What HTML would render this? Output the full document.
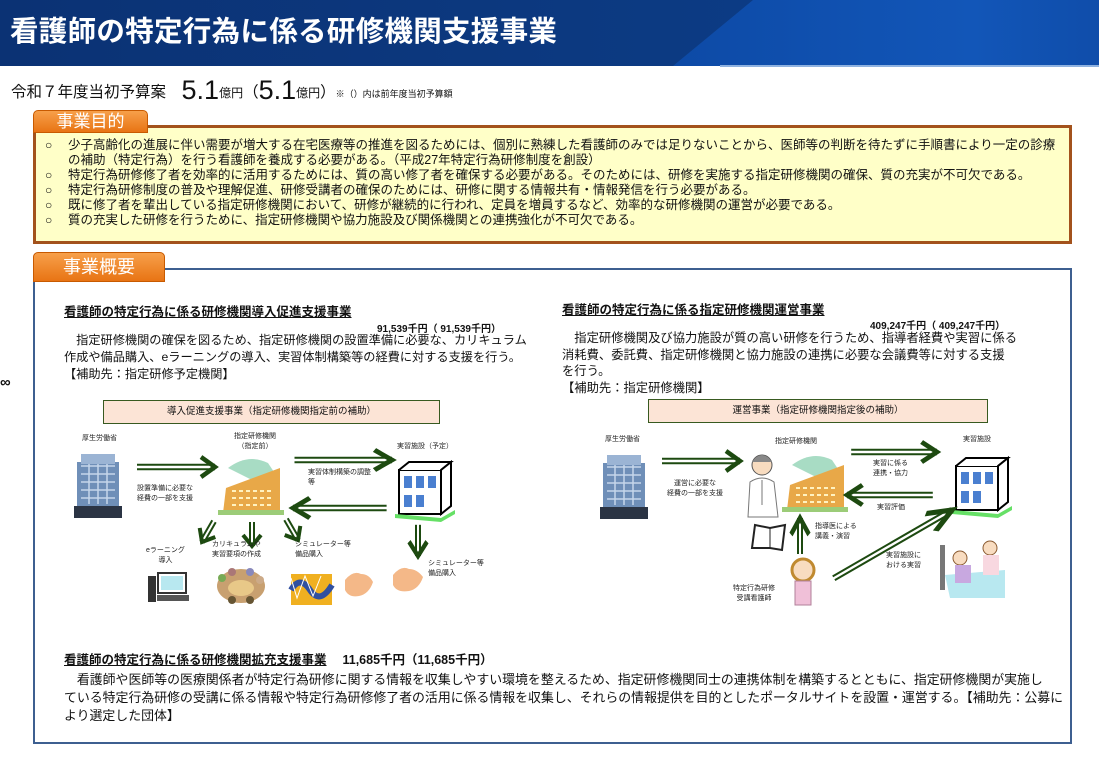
<!DOCTYPE html>
<html><head><meta charset="utf-8">
<style>
*{margin:0;padding:0;box-sizing:border-box}
body{width:1099px;height:759px;position:relative;background:#fff;font-family:"Liberation Sans","Noto Sans CJK JP",sans-serif;color:#111;overflow:hidden}
.a{position:absolute;white-space:nowrap}
.hdr{position:absolute;left:0;top:0;width:1099px;height:66px;background:linear-gradient(90deg,#0b3274 0%,#0c3a82 60%,#0c3f8c 100%);overflow:hidden}
.hdr .diag{position:absolute;left:673px;top:0;width:500px;height:66px;background:linear-gradient(90deg,#0d4aa6,#1256b8 60%,#0e48a2);clip-path:polygon(80px 0,500px 0,500px 66px,0 66px)}
.hdr .t{position:absolute;left:10px;top:9px;font-size:28.5px;font-weight:bold;color:#fff;letter-spacing:0.3px}
.tab{position:absolute;background:linear-gradient(#f7a04a,#e87414);border:1px solid #c85a00;border-radius:5px 5px 0 0;color:#fff;font-size:17px;text-align:center}
.lbl{font-size:7px;color:#222;line-height:10px}
</style></head><body>
<div class="hdr"><div class="diag"></div><div class="t">看護師の特定行為に係る研修機関支援事業</div></div>
<div style="position:absolute;left:720px;top:65px;width:380px;height:2px;background:#8fb2e0"></div>

<div class="a" style="left:11px;top:75px;font-size:15.5px">令和７年度当初予算案　<span style="font-size:27px;vertical-align:-2px">5.1</span><span style="font-size:12px">億円</span>（<span style="font-size:27px;vertical-align:-2px">5.1</span><span style="font-size:12px">億円</span>）<span style="font-size:9px">※（）内は前年度当初予算額</span></div>

<div style="position:absolute;left:33px;top:125px;width:1039px;height:119px;background:#ffffc8;border:3px solid #a3521c"></div>
<div class="tab" style="left:33px;top:110px;width:115px;height:23px;line-height:22px">事業目的</div>
<div class="a" style="left:45px;top:138px;font-size:12px;line-height:15px">○<br>&nbsp;<br>○<br>○<br>○<br>○</div>
<div class="a" style="left:68px;top:138px;font-size:12.5px;line-height:15px">少子高齢化の進展に伴い需要が増大する在宅医療等の推進を図るためには、個別に熟練した看護師のみでは足りないことから、医師等の判断を待たずに手順書により一定の診療<br>の補助（特定行為）を行う看護師を養成する必要がある。（平成27年特定行為研修制度を創設）<br>特定行為研修修了者を効率的に活用するためには、質の高い修了者を確保する必要がある。そのためには、研修を実施する指定研修機関の確保、質の充実が不可欠である。<br>特定行為研修制度の普及や理解促進、研修受講者の確保のためには、研修に関する情報共有・情報発信を行う必要がある。<br>既に修了者を輩出している指定研修機関において、研修が継続的に行われ、定員を増員するなど、効率的な研修機関の運営が必要である。<br>質の充実した研修を行うために、指定研修機関や協力施設及び関係機関との連携強化が不可欠である。</div>

<div style="position:absolute;left:33px;top:268px;width:1039px;height:476px;border:2px solid #3d5f90"></div>
<div class="tab" style="left:33px;top:252px;width:132px;height:30px;line-height:28px;font-size:18px">事業概要</div>
<div class="a" style="left:0;top:374px;font-size:15px;font-weight:bold">∞</div>

<div class="a" style="left:64px;top:301px;font-size:12.5px;font-weight:bold;text-decoration:underline">看護師の特定行為に係る研修機関導入促進支援事業</div>
<div class="a" style="left:377px;top:320px;font-size:10px;font-weight:bold">91,539千円（ 91,539千円）</div>
<div class="a" style="left:64px;top:332px;font-size:12.2px;line-height:17px">　指定研修機関の確保を図るため、指定研修機関の設置準備に必要な、カリキュラム<br>作成や備品購入、eラーニングの導入、実習体制構築等の経費に対する支援を行う。<br>【補助先：指定研修予定機関】</div>

<div class="a" style="left:562px;top:299px;font-size:12.5px;font-weight:bold;text-decoration:underline">看護師の特定行為に係る指定研修機関運営事業</div>
<div class="a" style="left:870px;top:317px;font-size:10px;font-weight:bold">409,247千円（ 409,247千円）</div>
<div class="a" style="left:562px;top:330px;font-size:12.3px;line-height:16.5px">　指定研修機関及び協力施設が質の高い研修を行うため、指導者経費や実習に係る<br>消耗費、委託費、指定研修機関と協力施設の連携に必要な会議費等に対する支援<br>を行う。<br>【補助先：指定研修機関】</div>

<div style="position:absolute;left:103px;top:400px;width:337px;height:24px;background:#fce4d6;border:1.5px solid #385a20;font-size:9.5px;text-align:center;line-height:21px">導入促進支援事業（指定研修機関指定前の補助）</div>
<div style="position:absolute;left:648px;top:399px;width:340px;height:24px;background:#fce4d6;border:1.5px solid #385a20;font-size:9.5px;text-align:center;line-height:21px">運営事業（指定研修機関指定後の補助）</div>

<svg width="1099" height="759" style="position:absolute;left:0;top:0">
<defs>
<g id="arr"><line x1="0" y1="-2.2" x2="-78" y2="-2.2" stroke="#1d4a10" stroke-width="2"/><line x1="0" y1="2.2" x2="-78" y2="2.2" stroke="#1d4a10" stroke-width="2"/><polyline points="-14,-10 0,0 -14,10" fill="none" stroke="#1d4a10" stroke-width="4.5"/></g>
<g id="sarr"><line x1="0" y1="-2" x2="-24" y2="-2" stroke="#1d4a10" stroke-width="2"/><line x1="0" y1="2" x2="-24" y2="2" stroke="#1d4a10" stroke-width="2"/><polyline points="-11,-9 0,0 -11,9" fill="none" stroke="#1d4a10" stroke-width="4"/></g>
<g id="mhlw"><rect x="0" y="8" width="42" height="52" fill="#6f8fb8"/><rect x="4" y="0" width="34" height="10" fill="#9bb4d4"/><path d="M4 12h34M4 20h34M4 28h34M4 36h34M4 44h34M12 10v40M21 10v40M30 10v40" stroke="#c6d6ea" stroke-width="1.5"/><rect x="-3" y="52" width="48" height="12" fill="#2b3444"/></g>
<g id="school"><path d="M10 10 Q30 -5 50 5 L60 20 L40 25 Z" fill="#a8dcc4"/><path d="M5 55 L8 30 L62 10 L62 55 Z" fill="#e8a848"/><path d="M14 33h40M14 40h40M14 47h40" stroke="#fff2c0" stroke-width="2" stroke-dasharray="4 3"/><rect x="0" y="52" width="66" height="5" fill="#9ccc78"/></g>
<g id="house"><rect x="4" y="8" width="42" height="44" fill="#fff" stroke="#000" stroke-width="2"/><path d="M4 8 L14 0 L56 0 L46 8" fill="#fff" stroke="#000" stroke-width="2"/><path d="M46 8 L56 0 L56 44 L46 52Z" fill="#fff" stroke="#000" stroke-width="2"/><rect x="9" y="14" width="8" height="12" fill="#4a7fd0"/><rect x="21" y="14" width="8" height="12" fill="#4a7fd0"/><rect x="33" y="14" width="8" height="12" fill="#4a7fd0"/><rect x="9" y="33" width="8" height="12" fill="#4a7fd0"/><rect x="21" y="33" width="8" height="12" fill="#4a7fd0"/><path d="M0 52 L46 56 L60 48 L60 52 L46 60 L0 56Z" fill="#66e066"/></g>
</defs>
<use href="#mhlw" x="77" y="454"/>
<use href="#school" x="218" y="458"/>
<use href="#house" x="395" y="462"/>
<use href="#arr" transform="translate(215,467)"/>
<use href="#arr" transform="translate(392,460) scale(1.25,1)"/>
<use href="#arr" transform="translate(293,508) rotate(180) scale(1.2,1)"/>
<use href="#sarr" transform="translate(202,542) rotate(120)"/>
<use href="#sarr" transform="translate(252,546) rotate(90)"/>
<use href="#sarr" transform="translate(298,540) rotate(60)"/>
<use href="#sarr" transform="translate(418,556) rotate(90) scale(1.3,1)"/>
<rect x="158" y="573" width="28" height="20" fill="#fff" stroke="#333" stroke-width="2"/><rect x="161" y="576" width="22" height="14" fill="#b8e8f0"/><rect x="148" y="576" width="8" height="26" fill="#333"/><rect x="157" y="595" width="32" height="6" fill="#555"/>
<ellipse cx="241" cy="586" rx="24" ry="17" fill="#c8a070"/><ellipse cx="241" cy="588" rx="13" ry="8" fill="#e8c888"/><circle cx="222" cy="578" r="4" fill="#7a5"/><circle cx="232" cy="572" r="4" fill="#a77"/><circle cx="250" cy="572" r="4" fill="#88b"/><circle cx="260" cy="580" r="4" fill="#ca8"/><circle cx="232" cy="600" r="4" fill="#653"/><circle cx="250" cy="600" r="4" fill="#653"/>
<rect x="291" y="574" width="41" height="31" fill="#f0b020"/><path d="M291 590 Q300 575 310 590 T332 585" stroke="#3050a0" stroke-width="6" fill="none"/><path d="M291 578 l6 20 l8 -22 l8 20 l8 -20" stroke="#fff" stroke-width="1" fill="none"/>
<path d="M345 580 q8 -10 16 -6 q8 0 12 8 q-4 12 -14 14 q-10 2 -14 -6z" fill="#f4b888"/>
<path d="M393 575 q8 -10 16 -6 q8 0 14 8 q-4 12 -14 14 q-12 2 -16 -6z" fill="#f4b888"/>
<use href="#mhlw" x="603" y="455"/>
<use href="#school" x="782" y="455"/>
<use href="#house" x="952" y="458"/>
<g><circle cx="762" cy="465" r="10" fill="#f8dcc0" stroke="#555"/><path d="M752 462 q10 -14 20 0" fill="#888"/><path d="M748 517 L750 482 Q762 474 774 482 L778 517Z" fill="#fff" stroke="#777"/><line x1="762" y1="480" x2="762" y2="505" stroke="#777"/></g>
<g><path d="M755 525 L770 528 L785 525 L782 550 L770 548 L752 548Z" fill="#fff" stroke="#222" stroke-width="2"/><line x1="770" y1="528" x2="770" y2="548" stroke="#222"/></g>
<g><circle cx="803" cy="570" r="11" fill="#f8dcc0" stroke="#c08a30" stroke-width="3"/><rect x="795" y="581" width="16" height="24" fill="#f0c0d8" stroke="#b0809a"/></g>
<g><rect x="940" y="545" width="5" height="45" fill="#777"/><path d="M945 575 L1005 570 L1005 598 L950 598Z" fill="#b8e8f0"/><circle cx="960" cy="558" r="7" fill="#f8dcc0" stroke="#8a5a30"/><rect x="955" y="565" width="16" height="18" fill="#c8a8e0"/><circle cx="990" cy="548" r="7" fill="#f8dcc0" stroke="#8a5a30"/><rect x="983" y="555" width="16" height="20" fill="#f8d8e0"/></g>
<use href="#arr" transform="translate(740,461)"/>
<use href="#arr" transform="translate(937,452) scale(1.1,1)"/>
<use href="#arr" transform="translate(847,495) rotate(180) scale(1.1,1)"/>
<use href="#sarr" transform="translate(800,518) rotate(-90) scale(1.5,1)"/>
<use href="#arr" transform="translate(952,510) rotate(-30) scale(1.75,1)"/>
</svg>

<div class="a lbl" style="left:82px;top:434px">厚生労働省</div>
<div class="a lbl" style="left:234px;top:432px;text-align:center">指定研修機関<br>（指定前）</div>
<div class="a lbl" style="left:397px;top:442px">実習施設（予定）</div>
<div class="a lbl" style="left:137px;top:484px">設置準備に必要な<br>経費の一部を支援</div>
<div class="a lbl" style="left:308px;top:468px">実習体制構築の調整<br>等</div>
<div class="a lbl" style="left:146px;top:546px;text-align:center">eラーニング<br>導入</div>
<div class="a lbl" style="left:212px;top:540px">カリキュラムや<br>実習要項の作成</div>
<div class="a lbl" style="left:295px;top:540px">シミュレーター等<br>備品購入</div>
<div class="a lbl" style="left:428px;top:559px">シミュレーター等<br>備品購入</div>
<div class="a lbl" style="left:605px;top:435px">厚生労働省</div>
<div class="a lbl" style="left:775px;top:437px">指定研修機関</div>
<div class="a lbl" style="left:963px;top:435px">実習施設</div>
<div class="a lbl" style="left:667px;top:479px;text-align:center">運営に必要な<br>経費の一部を支援</div>
<div class="a lbl" style="left:873px;top:459px">実習に係る<br>連携・協力</div>
<div class="a lbl" style="left:877px;top:503px">実習評価</div>
<div class="a lbl" style="left:815px;top:522px">指導医による<br>講義・演習</div>
<div class="a lbl" style="left:886px;top:551px">実習施設に<br>おける実習</div>
<div class="a lbl" style="left:733px;top:584px;text-align:center">特定行為研修<br>受講看護師</div>

<div class="a" style="left:64px;top:649px;font-size:12.5px;font-weight:bold"><span style="text-decoration:underline">看護師の特定行為に係る研修機関拡充支援事業</span>　 11,685千円（11,685千円）</div>
<div class="a" style="left:64px;top:671px;font-size:12.9px;line-height:18px">　看護師や医師等の医療関係者が特定行為研修に関する情報を収集しやすい環境を整えるため、指定研修機関同士の連携体制を構築するとともに、指定研修機関が実施し<br>ている特定行為研修の受講に係る情報や特定行為研修修了者の活用に係る情報を収集し、それらの情報提供を目的としたポータルサイトを設置・運営する。【補助先：公募に<br>より選定した団体】</div>
</body></html>
